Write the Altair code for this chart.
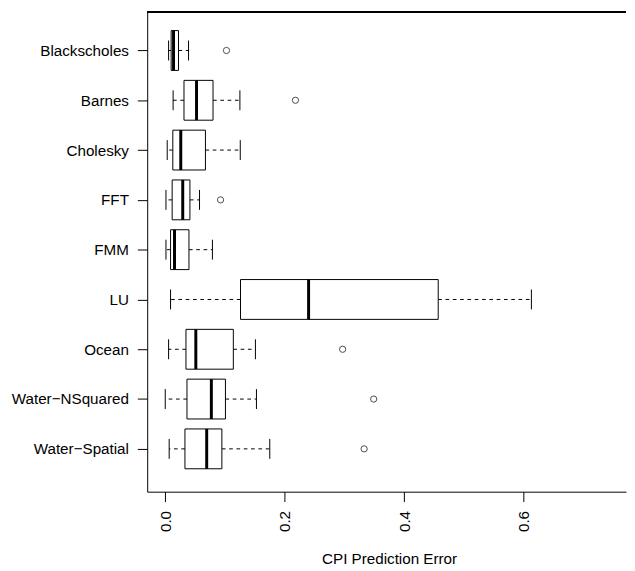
import json
import altair as alt
import pandas as pd

# ---- data ----
names = ["Blackscholes", "Barnes", "Cholesky", "FFT", "FMM", "LU",
         "Ocean", "Water\u2212NSquared", "Water\u2212Spatial"]
whisker_low = [0.0056, 0.0132, 0.0033, 0.0012, 0.0012, 0.0089, 0.0056, 0.0000, 0.0066]
q1 = [0.0099, 0.0314, 0.0127, 0.0116, 0.0089, 0.1260, 0.0347, 0.0364, 0.0330]
median = [0.0139, 0.0524, 0.0260, 0.0293, 0.0155, 0.2400, 0.0512, 0.0772, 0.0694]
q3 = [0.0222, 0.0800, 0.0673, 0.0413, 0.0397, 0.4570, 0.1140, 0.1008, 0.0948]
whisker_high = [0.0390, 0.1250, 0.1256, 0.0574, 0.0790, 0.6130, 0.1510, 0.1527, 0.1750]
outlier_names = ["Blackscholes", "Barnes", "FFT", "Ocean",
                 "Water\u2212NSquared", "Water\u2212Spatial"]
outlier_values = [0.1025, 0.218, 0.0926, 0.297, 0.349, 0.333]
x_ticks = [0.0, 0.2, 0.4, 0.6]
x_title = "CPI Prediction Error"

# ---- tables ----
pos = {n: i + 1 for i, n in enumerate(names)}
box_df = pd.DataFrame({
    "name": names,
    "pos": [pos[n] for n in names],
    "lo": whisker_low, "q1": q1, "med": median, "q3": q3, "hi": whisker_high,
})
out_df = pd.DataFrame({
    "name": outlier_names,
    "pos": [pos[n] for n in outlier_names],
    "value": outlier_values,
})

FONT = "Liberation Sans"
FS = 15.4
W = 485
H = 486.3

x_scale = alt.Scale(domain=[-0.0302, 0.7714], nice=False, zero=False)
y_scale = alt.Scale(domain=[0.219, 9.86], reverse=True, nice=False, zero=False)

label_expr = json.dumps(names, ensure_ascii=False) + "[datum.value - 1]"

x_axis = alt.Axis(values=x_ticks, format=".1f", labelAngle=270, labelAlign="right",
                  labelBaseline="middle", labelFlush=False, labelOverlap=False,
                  grid=False, tickSize=10, labelPadding=9, tickColor="black",
                  domainColor="black", labelColor="black", labelFont=FONT,
                  labelFontSize=FS, title=x_title, titleFont=FONT, titleFontSize=FS,
                  titleFontWeight="normal", titleColor="black", titleX=245,
                  titleY=72.4, titleBaseline="alphabetic", titleAlign="center")
y_axis = alt.Axis(values=list(range(1, len(names) + 1)), labelExpr=label_expr,
                  grid=False, tickSize=10, labelPadding=9, tickColor="black",
                  domainColor="black", labelColor="black", labelFont=FONT,
                  labelFontSize=FS, labelAlign="right", labelBaseline="middle",
                  labelOverlap=False, labelFlush=False)


def X(field):
    return alt.X(field, type="quantitative", scale=x_scale, axis=x_axis, title=x_title)


def Y(field):
    return alt.Y(field, type="quantitative", scale=y_scale, axis=y_axis, title=None)


base = alt.Chart(box_df)
dash = [3.7, 3.7]

# whiskers (dashed, drawn outward from the box)
low_whisk = base.mark_rule(color="black", strokeWidth=1, strokeDash=dash).encode(
    x=X("q1"), x2="lo:Q", y=Y("pos"))
high_whisk = base.mark_rule(color="black", strokeWidth=1, strokeDash=dash).encode(
    x=X("q3"), x2="hi:Q", y=Y("pos"))

# staples
caps = base.transform_calculate(ya="datum.pos - 0.2", yb="datum.pos + 0.2")
low_cap = caps.mark_rule(color="black", strokeWidth=1).encode(
    x=X("lo"), y=Y("ya"), y2="yb:Q")
high_cap = caps.mark_rule(color="black", strokeWidth=1).encode(
    x=X("hi"), y=Y("ya"), y2="yb:Q")

# boxes and medians
boxes = base.transform_calculate(ya="datum.pos - 0.4", yb="datum.pos + 0.4")
box = boxes.mark_rect(fill="white", stroke="black", strokeWidth=1).encode(
    x=X("q1"), x2="q3:Q", y=Y("ya"), y2="yb:Q")
med = boxes.mark_rule(color="black", strokeWidth=3).encode(
    x=X("med"), y=Y("ya"), y2="yb:Q")

# outliers
outs = alt.Chart(out_df).mark_point(shape="circle", filled=False, size=40,
                                     color="black", strokeWidth=1).encode(
    x=X("value"), y=Y("pos"))

# top frame line
top = alt.Chart(box_df).mark_rule(color="black", strokeWidth=1).encode(
    x=alt.value(0), x2=alt.value(W), y=alt.value(0.5))

chart = alt.layer(low_whisk, high_whisk, low_cap, high_cap, box, med, outs, top).properties(
    width=W, height=H,
    autosize=alt.AutoSizeParams(type="none"),
    padding={"left": 141, "top": 0, "right": 1, "bottom": 76.7},
    background="white",
).configure_view(stroke="transparent")

chart.save("out.html", embed_options={"renderer": "svg", "actions": False})
